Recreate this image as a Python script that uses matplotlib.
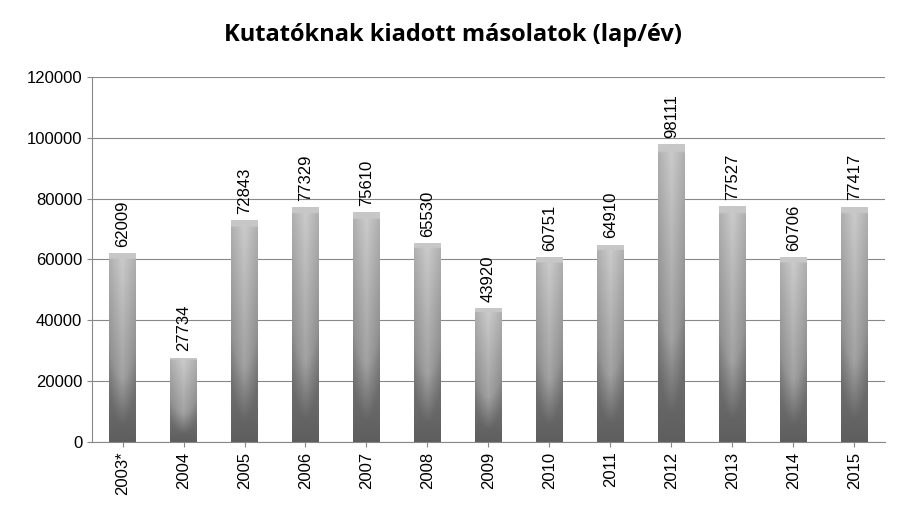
import matplotlib
matplotlib.use("Agg")
import matplotlib.pyplot as plt
import numpy as np

years = ["2003*", "2004", "2005", "2006", "2007", "2008", "2009", "2010", "2011", "2012", "2013", "2014", "2015"]
values = [62009, 27734, 72843, 77329, 75610, 65530, 43920, 60751, 64910, 98111, 77527, 60706, 77417]

plt.rcParams['font.family'] = ['Liberation Sans', 'DejaVu Sans']
fig = plt.figure(figsize=(9.07, 5.21), dpi=100)
ax = fig.add_axes([0.1015, 0.152, 0.874, 0.700])
ax.set_xlim(-0.5, len(years) - 0.5)
ax.set_ylim(0, 120000)
ax.set_yticks(np.arange(0, 120001, 20000))
ax.yaxis.grid(True, color='#888888', linewidth=0.8)
ax.set_axisbelow(True)
for s in ['top', 'right']:
    ax.spines[s].set_visible(False)
ax.spines['left'].set_color('#888888')
ax.spines['bottom'].set_color('#888888')
ax.tick_params(axis='both', labelsize=12, color='#888888')
ax.set_xticks(range(len(years)))
ax.set_xticklabels(years, rotation=90)

w = 0.44
bars = ax.bar(range(len(years)), values, width=w, color='#8a8a8a', zorder=2)
# gradient fill per bar
ny, nx = 100, 40
yy = np.linspace(0, 1, ny)[:, None]
xx = np.linspace(-1, 1, nx)[None, :]
for i, (b, v) in enumerate(zip(bars, values)):
    base = 0.37 + 0.25 * yy  # dark at bottom, lighter up
    bowl = 0.2 + 0.8 * xx**2
    light = np.clip((yy - bowl * 0.2 - 0.05) * 4, 0, 1)
    img = base + 0.18 * light * (1 - 0.6 * np.abs(xx))
    img[-3:, :] = 0.78
    im = ax.imshow(img, extent=(i - w/2, i + w/2, 0, v), origin='lower',
                   cmap='gray', vmin=0, vmax=1, aspect='auto', zorder=3)
    im.set_clip_path(b)
    ax.text(i, v + 2000, str(v), rotation=90, ha='center', va='bottom', fontsize=12, zorder=4)
ax.set_aspect('auto')
ax.set_xlim(-0.5, len(years) - 0.5)
ax.set_ylim(0, 120000)
fig.suptitle("Kutatóknak kiadott másolatok (lap/év)", y=0.955, fontsize=17, fontweight='bold',
             fontfamily=['Open Sans', 'DejaVu Sans'])
fig.savefig("out.png", dpi=100)
